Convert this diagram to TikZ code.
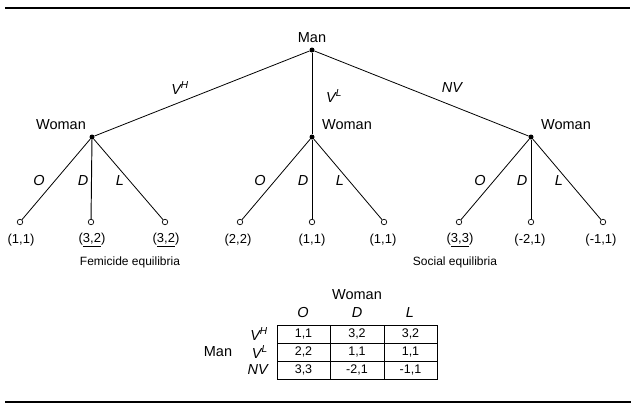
\documentclass[tikz,border=0pt]{standalone}
\usepackage{fontspec}
\setmainfont{Liberation Sans}
\begin{document}
\begin{tikzpicture}[x=1pt,y=-1pt,
  dec/.style={circle,fill=black,inner sep=0pt,minimum size=5pt},
  leaf/.style={circle,draw=black,fill=white,line width=0.7pt,inner sep=0pt,minimum size=5.5pt},
  edge/.style={line width=0.8pt},
  vedge/.style={line width=0.95pt},
  lbl/.style={font=\fontsize{14.5}{16}\selectfont,inner sep=0pt},
  act/.style={font=\fontsize{14.5}{16}\selectfont\itshape,inner sep=0pt},
  pay/.style={font=\fontsize{13}{15}\selectfont,inner sep=0pt},
  note/.style={font=\fontsize{12}{14}\selectfont,inner sep=0pt},
  cell/.style={font=\fontsize{12.5}{14}\selectfont,inner sep=0pt},
  rule/.style={line width=1.4pt}]
\useasboundingbox (0,0) rectangle (634,410);
% rules
\coordinate (tl) at (5,8); \coordinate (tr) at (630,8);
\coordinate (bl) at (5,402); \coordinate (br) at (631,402);
\draw[rule] (tl) -- (tr);
\draw[rule] (bl) -- (br);
% tree nodes
\node[dec] (m) at (312,50) {};
\node[dec] (w1) at (92,137) {};
\node[dec] (w2) at (312,137) {};
\node[dec] (w3) at (531,137) {};
\foreach \n/\x in {11/20,12/91,13/165,21/240,22/312,23/384,31/459,32/531,33/603}
  \node[leaf] (l\n) at (\x,222) {};
\draw[edge] (m) -- (w1);
\draw[vedge] (m) -- (w2);
\draw[edge] (m) -- (w3);
\foreach \i in {1,2,3}{
  \draw[edge] (w\i) -- (l\i1);
  \draw[vedge] (w\i) -- (l\i2);
  \draw[edge] (w\i) -- (l\i3);
}
% labels
\node[lbl] (tman) at (312,38) {Man};
\node[lbl] (tw1) at (61,125) {Woman};
\node[lbl] (tw2) at (347,125) {Woman};
\node[lbl] (tw3) at (566,125) {Woman};
\node[act] (avh) at (180,88) {V\textsuperscript{H}};
\node[act] (avl) at (334,96) {V\textsuperscript{L}};
\node[act] (anv) at (452,88) {NV};
\foreach \n/\x/\t in {o1/39/O,d1/83/D,e1/120/L,o2/260/O,d2/303/D,e2/340/L,o3/480/O,d3/522/D,e3/559/L}
  \node[act] (a\n) at (\x,181) {\t};
% payoffs
\node[pay] (p11) at (21,240) {(1,1)};
\node[pay] (p12) at (92,240) {(\underline{3,2})};
\node[pay] (p13) at (166,240) {(\underline{3,2})};
\node[pay] (p21) at (238,240) {(2,2)};
\node[pay] (p22) at (312,240) {(1,1)};
\node[pay] (p23) at (383,240) {(1,1)};
\node[pay] (p31) at (460,240) {(\underline{3,3})};
\node[pay] (p32) at (530,240) {(-2,1)};
\node[pay] (p33) at (601,240) {(-1,1)};
\node[note] (fem) at (130,262) {Femicide equilibria};
\node[note] (soc) at (455,262) {Social equilibria};
% normal form table
\node[lbl] (tw) at (357,295) {Woman};
\node[act] (co) at (303,313) {O};
\node[act] (cd) at (357,313) {D};
\node[act] (cl) at (410,313) {L};
\node[lbl] (tm) at (218,352) {Man};
\node[act,anchor=east] (rvh) at (268,334) {V\textsuperscript{H}};
\node[act,anchor=east] (rvl) at (268,352) {V\textsuperscript{L}};
\node[act,anchor=east] (rnv) at (268,370) {NV};
\draw[line width=0.9pt] (277,325) rectangle (437,379);
\draw[line width=0.9pt] (330,325) -- (330,379) (384,325) -- (384,379)
  (277,343) -- (437,343) (277,361) -- (437,361);
\node[cell] (c11) at (303.5,334) {1,1};
\node[cell] (c12) at (357,334) {3,2};
\node[cell] (c13) at (410.5,334) {3,2};
\node[cell] (c21) at (303.5,352) {2,2};
\node[cell] (c22) at (357,352) {1,1};
\node[cell] (c23) at (410.5,352) {1,1};
\node[cell] (c31) at (303.5,370) {3,3};
\node[cell] (c32) at (357,370) {-2,1};
\node[cell] (c33) at (410.5,370) {-1,1};
\end{tikzpicture}
\end{document}
